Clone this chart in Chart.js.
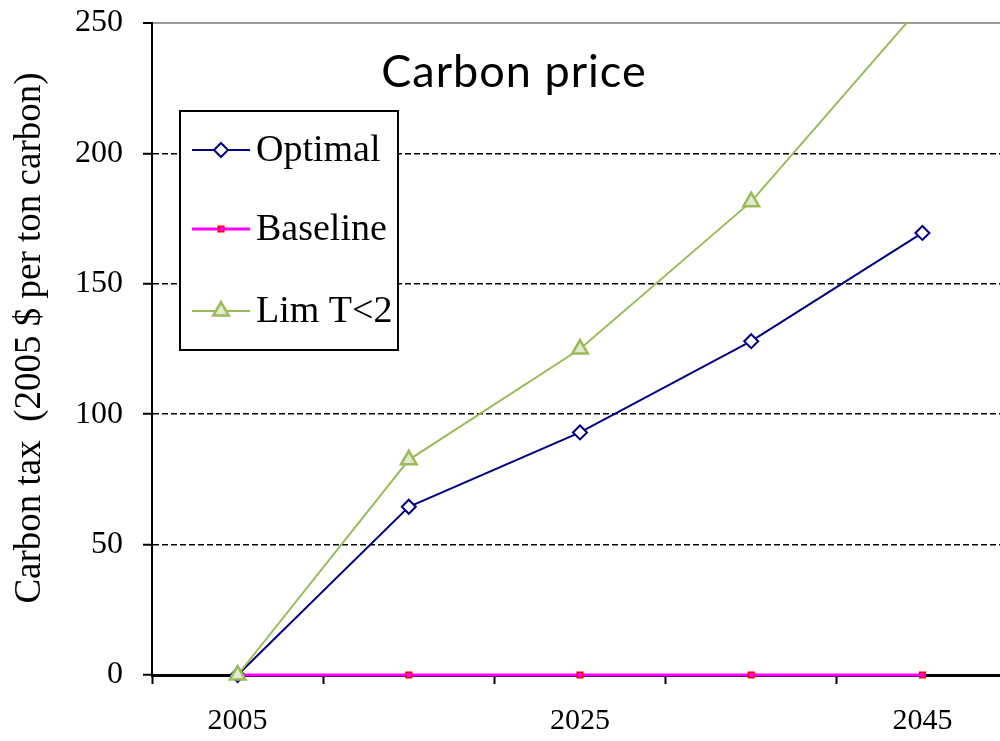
<!DOCTYPE html>
<html>
<head>
<meta charset="utf-8">
<script src="https://cdn.jsdelivr.net/npm/chart.js@4/dist/chart.umd.min.js"></script>
<style>
  html, body { margin: 0; padding: 0; background: #fff; overflow: hidden; width: 1000px; height: 741px; }
  #wrap { width: 1008px; height: 741px; }
</style>
</head>
<body>
<div id="wrap"><canvas id="c" width="1008" height="741"></canvas></div>
<script>
// ---- data ----
const years = ['2005', '2015', '2025', '2035', '2045'];
const shownYearLabels = ['2005', '2025', '2045'];
const optimal  = [0, 64.5, 93, 128, 169.5];
const baseline = [0, 0, 0, 0, 0];
const limT2    = [0, 82.5, 125, 181.5, 257];
const yTicks   = [0, 50, 100, 150, 200, 250];
const seriesNames = ['Optimal', 'Baseline', 'Lim T<2'];
const chartTitle = 'Carbon price';
const yAxisTitle = 'Carbon tax  (2005 $ per ton carbon)';

const SERIF = '"Liberation Serif", "DejaVu Serif", serif';

function drawMarker(ctx, style, x, y, r, fill, stroke, bw) {
  ctx.save();
  ctx.lineWidth = bw; ctx.strokeStyle = stroke; ctx.fillStyle = fill;
  ctx.beginPath();
  if (style === 'rectRot') {
    ctx.moveTo(x, y - r); ctx.lineTo(x + r, y); ctx.lineTo(x, y + r); ctx.lineTo(x - r, y); ctx.closePath();
  } else if (style === 'rect') {
    const h = r * Math.SQRT1_2;
    ctx.rect(x - h, y - h, 2 * h, 2 * h);
  } else if (style === 'triangle') {
    const a = 2 * Math.PI / 3;
    ctx.moveTo(x, y - r);
    ctx.lineTo(x + Math.sin(a) * r, y - Math.cos(a) * r);
    ctx.lineTo(x + Math.sin(2 * a) * r, y - Math.cos(2 * a) * r);
    ctx.closePath();
  }
  ctx.fill(); ctx.stroke();
  ctx.restore();
}

const overlayPlugin = {
  id: 'overlay',
  afterDraw(chart) {
    const ctx = chart.ctx;
    // title
    ctx.save();
    ctx.fillStyle = '#000';
    ctx.font = '45px Lato, "Open Sans", sans-serif';
    if ('letterSpacing' in ctx) ctx.letterSpacing = '1px';
    ctx.textAlign = 'center'; ctx.textBaseline = 'middle';
    ctx.fillText(chartTitle, 514, 72);
    ctx.restore();
    // y axis title
    ctx.save();
    ctx.translate(30, 338);
    ctx.rotate(-Math.PI / 2);
    ctx.fillStyle = '#000';
    ctx.font = '37px ' + SERIF;
    ctx.textAlign = 'center'; ctx.textBaseline = 'middle';
    ctx.fillText(yAxisTitle, 0, 0);
    ctx.restore();
    // legend
    const bx = 180, by = 111, bw = 218, bh = 239;
    ctx.save();
    ctx.fillStyle = '#fff';
    ctx.fillRect(bx, by, bw, bh);
    ctx.lineWidth = 2; ctx.strokeStyle = '#000';
    ctx.strokeRect(bx, by, bw, bh);
    const rowsY = [150, 229, 311];
    chart.data.datasets.forEach((ds, i) => {
      const y = rowsY[i];
      ctx.strokeStyle = ds.borderColor; ctx.lineWidth = ds.borderWidth;
      ctx.beginPath(); ctx.moveTo(192, y); ctx.lineTo(250, y); ctx.stroke();
      drawMarker(ctx, ds.pointStyle, 221, y, ds.pointRadius, ds.pointBackgroundColor, ds.pointBorderColor, ds.pointBorderWidth);
      ctx.fillStyle = '#000';
      ctx.font = '38px ' + SERIF;
      ctx.textAlign = 'left'; ctx.textBaseline = 'middle';
      ctx.fillText(ds.label, 256, y + 1);
    });
    ctx.restore();
  }
};

new Chart(document.getElementById('c'), {
  type: 'line',
  data: {
    labels: years,
    datasets: [
      {
        label: seriesNames[0], data: optimal, order: 2,
        borderColor: '#000080', borderWidth: 2, tension: 0,
        pointStyle: 'rectRot', pointRadius: 7, pointBackgroundColor: '#ffffff',
        pointBorderColor: '#000080', pointBorderWidth: 2,
        clip: { left: 10, right: 10, top: 1, bottom: 12 }
      },
      {
        label: seriesNames[1], data: baseline, order: 1,
        borderColor: '#FF00FF', borderWidth: 3, tension: 0,
        pointStyle: 'rect', pointRadius: 4, pointBackgroundColor: '#FF00FF',
        pointBorderColor: '#FF0000', pointBorderWidth: 1.5,
        clip: { left: 10, right: 10, top: 1, bottom: 12 }
      },
      {
        label: seriesNames[2], data: limT2, order: 0,
        borderColor: '#9BBB59', borderWidth: 2, tension: 0,
        pointStyle: 'triangle', pointRadius: 9, pointBackgroundColor: '#E0EAD0',
        pointBorderColor: '#9BBB59', pointBorderWidth: 2.5,
        clip: { left: 10, right: 10, top: 1, bottom: 12 }
      }
    ]
  },
  options: {
    responsive: false,
    animation: false,
    layout: { autoPadding: false, padding: { top: 23, left: 0, right: 0, bottom: 0 } },
    plugins: { legend: { display: false }, tooltip: { enabled: false }, title: { display: false } },
    scales: {
      x: {
        type: 'category',
        offset: true,
        afterFit(s) { s.height = 66; s.paddingLeft = 0; s.paddingRight = 0; },
        grid: { offset: true, drawOnChartArea: false, drawTicks: true, tickLength: 9, tickColor: '#000', tickWidth: 2 },
        border: { display: true, color: '#000', width: 3 },
        ticks: {
          autoSkip: false, maxRotation: 0, padding: 19, color: '#000',
          font: { family: SERIF, size: 30 },
          callback(v, i) { const l = years[i]; return shownYearLabels.includes(l) ? l : ''; }
        }
      },
      y: {
        min: 0, max: 250,
        afterFit(s) { s.width = 152; s.paddingTop = 0; s.paddingBottom = 0; },
        afterBuildTicks(s) { s.ticks = yTicks.map(v => ({ value: v })); },
        grid: {
          drawOnChartArea: true, drawTicks: true, tickLength: 9, tickColor: '#000', tickWidth: 2,
          color(c) { const v = c.tick && c.tick.value; if (v === 0) return 'rgba(0,0,0,0)'; return v === 250 ? '#9a9a9a' : '#000'; },
          lineWidth(c) { return (c.tick && c.tick.value === 250) ? 2 : 1.5; }
        },
        border: {
          display: true, color: '#000', width: 2,
          dash(c) { return (c.tick && c.tick.value === 250) ? [] : [6, 3]; }
        },
        ticks: { padding: 20, color: '#000', font: { family: SERIF, size: 32 } }
      }
    }
  },
  plugins: [overlayPlugin]
});
</script>
</body>
</html>
